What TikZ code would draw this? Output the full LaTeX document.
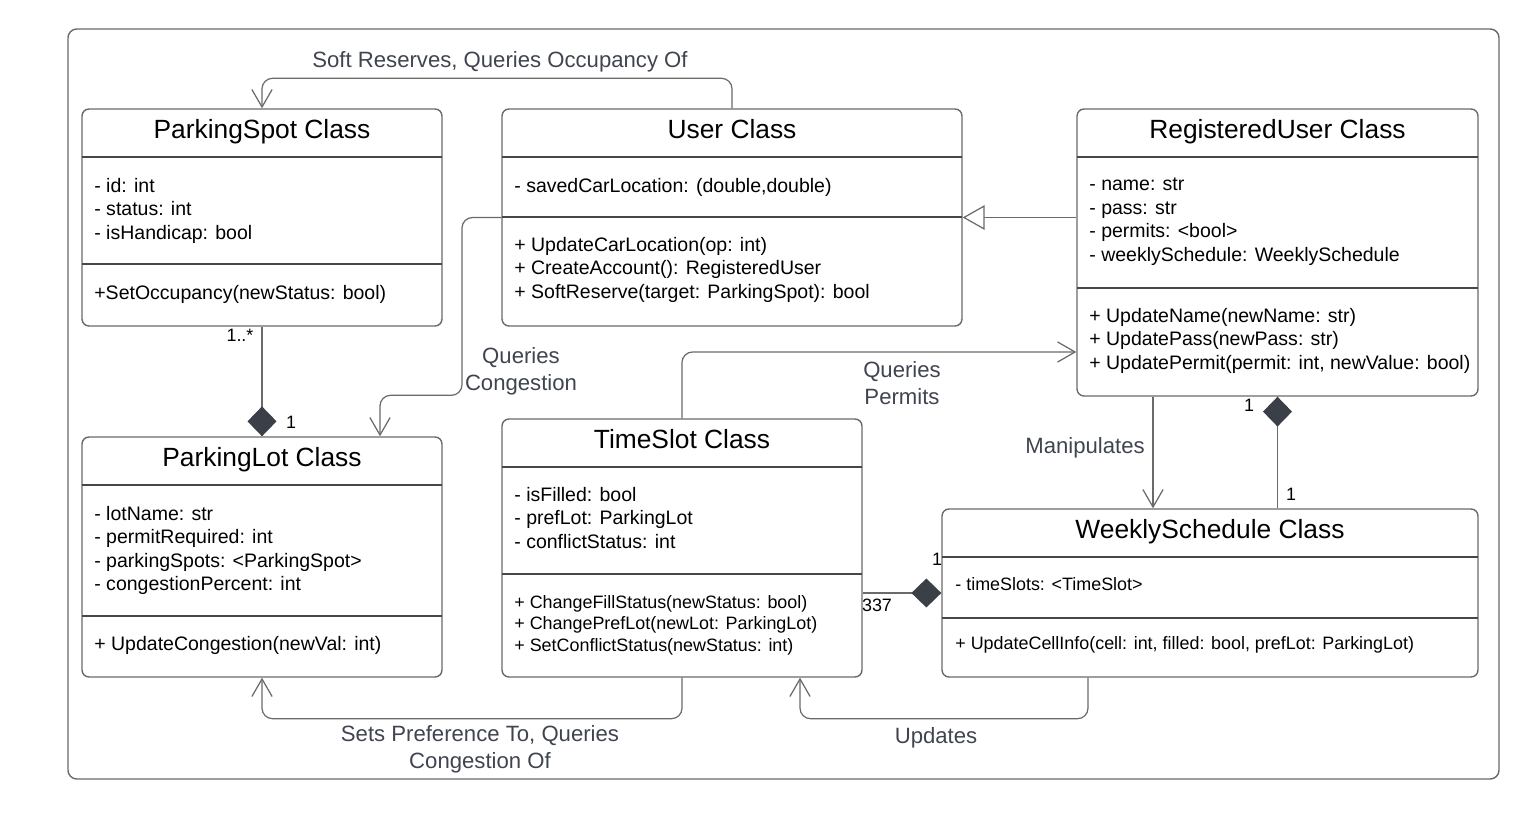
\documentclass[tikz,border=0pt]{standalone}
\usepackage{fontspec}
\setmainfont{Liberation Sans}
\usetikzlibrary{arrows.meta,fit,calc}
\definecolor{boxline}{HTML}{6A6A6A}
\definecolor{divline}{HTML}{474747}
\definecolor{labgray}{HTML}{3F4450}
\definecolor{dia}{HTML}{3A3F48}
\begin{document}
\begin{tikzpicture}[x=0.02cm,y=-0.02cm,
  classbox/.style={draw=boxline, line width=0.8pt, rounded corners=4pt, inner sep=0pt},
  divider/.style={draw=divline, line width=0.7pt},
  title/.style={font=\fontsize{15}{18}\selectfont, inner sep=0pt, anchor=base},
  body/.style={font=\fontsize{11.1}{13.3}\selectfont, align=left, anchor=north west, inner sep=0pt},
  small/.style={font=\fontsize{10.2}{12.2}\selectfont, align=left, anchor=north west, inner sep=0pt},
  conn/.style={draw=boxline, line width=0.7pt, rounded corners=6pt},
  arr/.style={conn, -{Straight Barb[length=10pt,width=11.5pt]}},
  gen/.style={conn, -{Triangle[open,length=12.5pt,width=14pt,fill=white]}},
  comp/.style={conn, -{Diamond[length=17pt,width=16.5pt,color=dia]}},
  lab/.style={font=\fontsize{12.6}{15.4}\selectfont, text=labgray, align=center, inner sep=0pt, anchor=north},
  mult/.style={font=\fontsize{10.2}{12}\selectfont, inner sep=0pt}
]
\useasboundingbox (0,0) rectangle (1531,820);
\node[draw=boxline, line width=0.8pt, rounded corners=5pt, inner sep=0pt, fit={(68,29) (1499,779)}] (frame) {};

% ParkingSpot
\node[classbox, fit={(82,109) (442,326)}] (ps) {};
\draw[divider] (82,157) -- (442,157);
\draw[divider] (82,264) -- (442,264);
\node[title] (pst) at (262,138.5) {ParkingSpot Class};
\node[body] (psa) at (94,178) {- id: int\\- status: int\\- isHandicap: bool};
\node[body] (psm) at (94,285) {+SetOccupancy(newStatus: bool)};

% User
\node[classbox, fit={(502,109) (962,326)}] (user) {};
\draw[divider] (502,157) -- (962,157);
\draw[divider] (502,217) -- (962,217);
\node[title] (ust) at (732,138.5) {User Class};
\node[body] (usa) at (514,178) {- savedCarLocation: (double,double)};
\node[body] (usm) at (514,237) {+ UpdateCarLocation(op: int)\\+ CreateAccount(): RegisteredUser\\+ SoftReserve(target: ParkingSpot): bool};

% RegisteredUser
\node[classbox, fit={(1077,109) (1478,396)}] (ru) {};
\draw[divider] (1077,157) -- (1478,157);
\draw[divider] (1077,288) -- (1478,288);
\node[title] (rut) at (1277.5,138.5) {RegisteredUser Class};
\node[body] (rua) at (1089,178) {- name: str\\- pass: str\\- permits: <bool>\\- weeklySchedule: WeeklySchedule};
\node[body] (rum) at (1089,308) {+ UpdateName(newName: str)\\+ UpdatePass(newPass: str)\\+ UpdatePermit(permit: int, newValue: bool)};

% ParkingLot
\node[classbox, fit={(82,437) (442,677)}] (pl) {};
\draw[divider] (82,485) -- (442,485);
\draw[divider] (82,616) -- (442,616);
\node[title] (plt) at (262,466.5) {ParkingLot Class};
\node[body] (pla) at (94,506) {- lotName: str\\- permitRequired: int\\- parkingSpots: <ParkingSpot>\\- congestionPercent: int};
\node[body] (plm) at (94,636) {+ UpdateCongestion(newVal: int)};

% TimeSlot
\node[classbox, fit={(502,419) (862,677)}] (ts) {};
\draw[divider] (502,467) -- (862,467);
\draw[divider] (502,574) -- (862,574);
\node[title] (tst) at (682,448.5) {TimeSlot Class};
\node[body] (tsa) at (514,487) {- isFilled: bool\\- prefLot: ParkingLot\\- conflictStatus: int};
\node[small] (tsm) at (514,595) {+ ChangeFillStatus(newStatus: bool)\\+ ChangePrefLot(newLot: ParkingLot)\\+ SetConflictStatus(newStatus: int)};

% WeeklySchedule
\node[classbox, fit={(942,509) (1478,677)}] (ws) {};
\draw[divider] (942,557) -- (1478,557);
\draw[divider] (942,618) -- (1478,618);
\node[title] (wst) at (1210,538.5) {WeeklySchedule Class};
\node[small] (wsa) at (955,577) {- timeSlots: <TimeSlot>};
\node[small] (wsm) at (955,636) {+ UpdateCellInfo(cell: int, filled: bool, prefLot: ParkingLot)};

% Connectors
\draw[arr] (user.north) -- ++(0,-30) -| (ps.north);
\node[lab] (l1) at (500,51) {Soft Reserves, Queries Occupancy Of};

\draw[comp] (ps.south) -- (pl.north);
\node[mult] (m1) at (240,335) {1..*};
\node[mult] (m2) at (291,422) {1};

\draw[arr] (user.west) -| ($(pl.north)+(200,-41)$) -| ($(pl.north)+(118,0)$);
\node[lab] (l2) at (521,347) {Queries\\Congestion};

\draw[arr] (ts.north) |- ($(ru.west)+(0,99.5)$);
\node[lab] (l3) at (902,361) {Queries\\Permits};

\draw[gen] (ru.west |- user.east) -- (user.east);

\draw[arr] ($(ru.south)+(-124.5,0)$) -- ($(ws.north)+(-57,0)$);
\node[lab] (l4) at (1085,437) {Manipulates};

\draw[comp] (ws.north -| ru.south) -- (ru.south);
\node[mult] (m3) at (1249,405) {1};
\node[mult] (m4) at (1291,494) {1};

\draw[comp] (ts.east |- ws.west) -- (ws.west);
\node[mult] (m5) at (877,605) {337};
\node[mult] (m6) at (937,559) {1};

\draw[arr] (ts.south) -- ++(0,41) -| (pl.south);
\node[lab] (l5) at (480,725) {Sets Preference To, Queries\\Congestion Of};

\draw[arr] ($(ws.south)+(-122,0)$) -- ++(0,41) -| ($(ts.south)+(118,0)$);
\node[lab] (l6) at (936,727) {Updates};
\end{tikzpicture}
\end{document}
